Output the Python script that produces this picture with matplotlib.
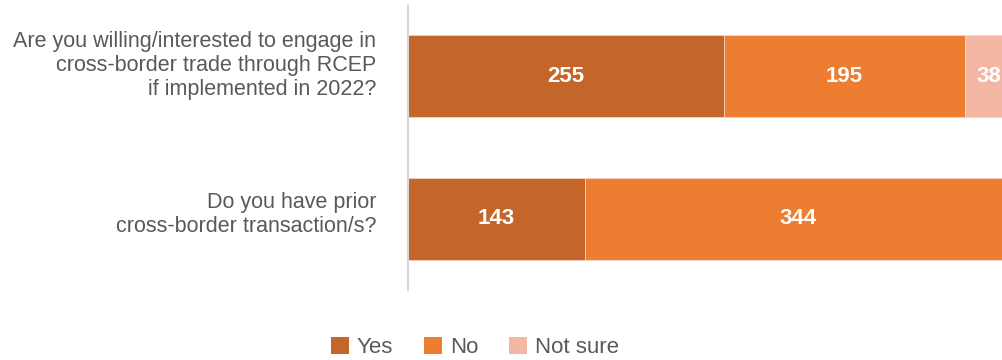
import numpy as np
import matplotlib.pyplot as plt
from matplotlib.patches import Patch

# survey questions (bottom to top)
questions = ["Do you have prior\ncross-border transaction/s?",
             "Are you willing/interested to engage in\ncross-border trade through RCEP\nif implemented in 2022?"]
answers = ["Yes", "No", "Not sure"]
yes_vals = [143, 255]
no_vals = [344, 195]
notsure_vals = [0, 38]

colors = ["#C4662A", "#ED7D31", "#F4B7A3"]
text_grey = "#595959"
font = ["Liberation Sans", "DejaVu Sans"]

fig = plt.figure(figsize=(10.02, 3.6), dpi=100)
ax = fig.add_axes([0.4072, 0.194, 0.5928, 0.792])

ypos = np.arange(len(questions))
left = np.zeros(len(questions))
for vals, c in zip([yes_vals, no_vals, notsure_vals], colors):
    vals = np.array(vals)
    bars = ax.barh(ypos, vals, left=left, height=0.575, color=c,
                   edgecolor="#F2D5C4", linewidth=0.6)
    for b, v in zip(bars, vals):
        if v > 0:
            ax.text(b.get_x() + b.get_width() / 2, b.get_y() + b.get_height() / 2,
                    str(v), ha="center", va="center", color="white",
                    fontsize=16, fontweight="bold", family=font)
    left += vals

ax.set_xlim(0, 480)
ax.set_ylim(-0.5, 1.5)
ax.set_xticks([])
ax.set_yticks([])
for s in ["top", "right", "bottom"]:
    ax.spines[s].set_visible(False)
ax.spines["left"].set_color("#D9D9D9")
ax.spines["left"].set_linewidth(1.5)

# question labels to the left of the axis line, sitting a little above bar centre
label_shift = [4, 11]  # pixels
for y, q, dy in zip(ypos, questions, label_shift):
    ypix = ax.transData.transform((0, y))[1] + dy
    fig.text(0.3755, ypix / fig.bbox.height, q,
             ha="right", va="center", fontsize=15.5, color=text_grey,
             linespacing=1.18, family=font)

handles = [Patch(facecolor=c, edgecolor="none") for c in colors]
fig.legend(handles, answers, loc="lower center", bbox_to_anchor=(0.474, -0.05),
           ncol=3, frameon=False, handlelength=0.8, handleheight=0.8,
           handletextpad=0.35, columnspacing=1.4, labelcolor=text_grey,
           prop={"family": font, "size": 16})

fig.savefig("out.png", dpi=100)
